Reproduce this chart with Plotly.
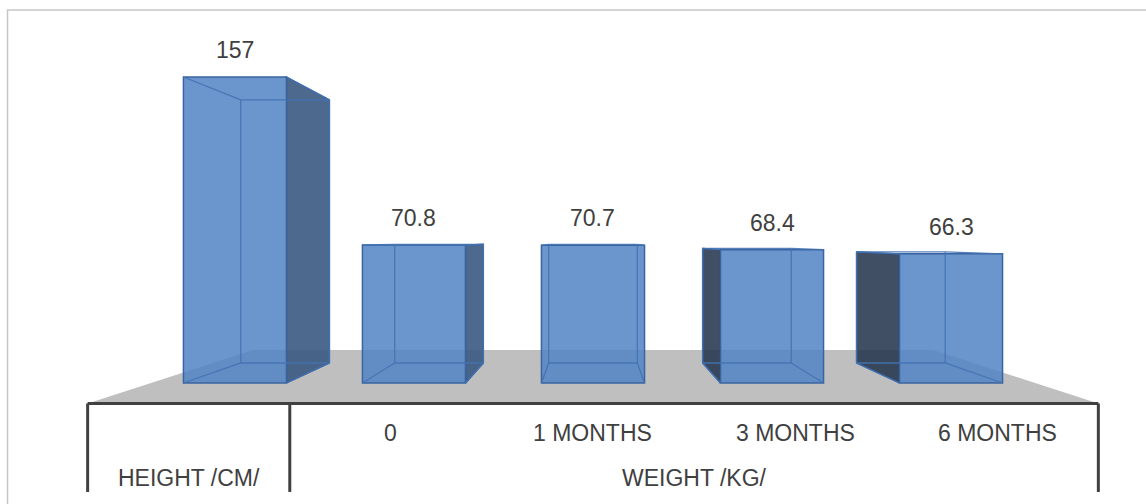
import plotly.graph_objects as go

# ---- data ----
values = [157, 70.8, 70.7, 68.4, 66.3]
sub_labels = ["", "0", "1 MONTHS", "3 MONTHS", "6 MONTHS"]
group_labels = ["HEIGHT /CM/", "WEIGHT /KG/"]
group_first = [0, 1]   # first slot of each group
group_last = [0, 4]    # last slot of each group

# ---- perspective set-up (data units) ----
VX, VY = 2.0, 73.4          # vanishing point
BAR_HALF = 0.288            # half bar width on the front plane
DEPTH = 0.86                # scale of a bar's back face
FLOOR_FRONT = 1.143         # scale of the floor's front edge
FLOOR_BACK = 0.769          # scale of the floor's back edge
FLOOR_PAD = 0.47            # floor overhang beyond the outer bars
TABLE_BOTTOM = -55.9
ROW1_Y = -25.9
ROW2_Y = -48.7

FACE = "rgba(80,132,196,0.85)"
EDGE = "rgb(58,100,160)"
INNER = "rgba(66,114,178,0.9)"
RIGHT_SIDE = "rgba(58,89,129,0.9)"
LEFT_SIDE = "rgba(37,55,78,0.88)"
TEXT = "#404040"
FONT = "Liberation Sans, Arial, sans-serif"


def proj(x, y, k):
    return VX + k * (x - VX), VY + k * (y - VY)


n = len(values)
fig = go.Figure()

# front faces
fig.add_trace(go.Bar(
    x=list(range(n)), y=values, width=2 * BAR_HALF,
    marker=dict(color=FACE, line=dict(color=EDGE, width=1.5)),
    hoverinfo="skip", showlegend=False,
))

ex, ey = [], []
for i, v in enumerate(values):
    xl, xr = i - BAR_HALF, i + BAR_HALF
    fl_b, fr_b, fr_t, fl_t = (xl, 0), (xr, 0), (xr, v), (xl, v)
    bl_b, br_b, br_t, bl_t = [proj(px, py, DEPTH) for px, py in (fl_b, fr_b, fr_t, fl_t)]

    # visible side face
    if br_b[0] > xr + 1e-6:
        poly = [fr_b, br_b, br_t, fr_t, fr_b]
        col = RIGHT_SIDE
    elif bl_b[0] < xl - 1e-6:
        poly = [fl_b, bl_b, bl_t, fl_t, fl_b]
        col = LEFT_SIDE
    else:
        poly = None
    if poly:
        fig.add_trace(go.Scatter(
            x=[p[0] for p in poly], y=[p[1] for p in poly],
            mode="lines", fill="toself", fillcolor=col,
            line=dict(color=EDGE, width=1.3),
            hoverinfo="skip", showlegend=False,
        ))

    # back face and connecting edges seen through the glass
    for a, b in [(bl_b, br_b), (br_b, br_t), (br_t, bl_t), (bl_t, bl_b),
                 (fl_b, bl_b), (fr_b, br_b), (fr_t, br_t), (fl_t, bl_t)]:
        ex += [a[0], b[0], None]
        ey += [a[1], b[1], None]

fig.add_trace(go.Scatter(
    x=ex, y=ey, mode="lines", line=dict(color=INNER, width=1.3),
    hoverinfo="skip", showlegend=False,
))

# floor
lo, hi = -FLOOR_PAD, (n - 1) + FLOOR_PAD
corners = [proj(lo, 0, FLOOR_FRONT), proj(hi, 0, FLOOR_FRONT),
           proj(hi, 0, FLOOR_BACK), proj(lo, 0, FLOOR_BACK)]
path = "M " + " L ".join(f"{x},{y}" for x, y in corners) + " Z"
shapes = [dict(type="path", path=path, xref="x", yref="y", layer="below",
               fillcolor="#bfbfbf", line=dict(width=0))]

# category table under the floor
slot = (hi - lo) / n
def edge_x(j):
    return proj(lo + slot * j, 0, FLOOR_FRONT)[0]

def centre_x(j):
    return proj(lo + slot * (j + 0.5), 0, FLOOR_FRONT)[0]

front_y = corners[0][1]
shapes.append(dict(type="line", xref="x", yref="y", x0=corners[0][0], x1=corners[1][0],
                   y0=front_y, y1=front_y, line=dict(color=TEXT, width=3)))
for j in [0, group_first[1], n]:
    xv = edge_x(j)
    shapes.append(dict(type="line", xref="x", yref="y", x0=xv, x1=xv,
                       y0=front_y, y1=TABLE_BOTTOM, line=dict(color=TEXT, width=3)))

# outer chart border
shapes.append(dict(type="rect", xref="paper", yref="paper",
                   x0=7.5 / 1146, x1=1.01, y0=-0.01, y1=1 - 10 / 504,
                   line=dict(color="#c6c6c6", width=1.5), fillcolor="rgba(0,0,0,0)"))

annotations = []
for j, lab in enumerate(sub_labels):
    if lab:
        annotations.append(dict(x=centre_x(j), y=ROW1_Y, xref="x", yref="y", text=lab,
                                showarrow=False, font=dict(size=23, color=TEXT, family=FONT)))
for lab, a, b in zip(group_labels, group_first, group_last):
    xm = (edge_x(a) + edge_x(b + 1)) / 2
    annotations.append(dict(x=xm, y=ROW2_Y, xref="x", yref="y", text=lab,
                            showarrow=False, font=dict(size=23, color=TEXT, family=FONT)))

# value labels
for i, v in enumerate(values):
    annotations.append(dict(x=i, y=v, xref="x", yref="y", text=f"{v:g}",
                            showarrow=False, yshift=27,
                            font=dict(size=23, color=TEXT, family=FONT)))

fig.update_layout(
    width=1146, height=504,
    margin=dict(l=0, r=0, t=0, b=0),
    paper_bgcolor="white", plot_bgcolor="white",
    xaxis=dict(range=[-1.3128, 5.0894], visible=False, fixedrange=True),
    yaxis=dict(range=[-62.08, 196.51], visible=False, fixedrange=True),
    shapes=shapes, annotations=annotations,
    barmode="overlay", showlegend=False,
)

fig.write_html("out.html")
